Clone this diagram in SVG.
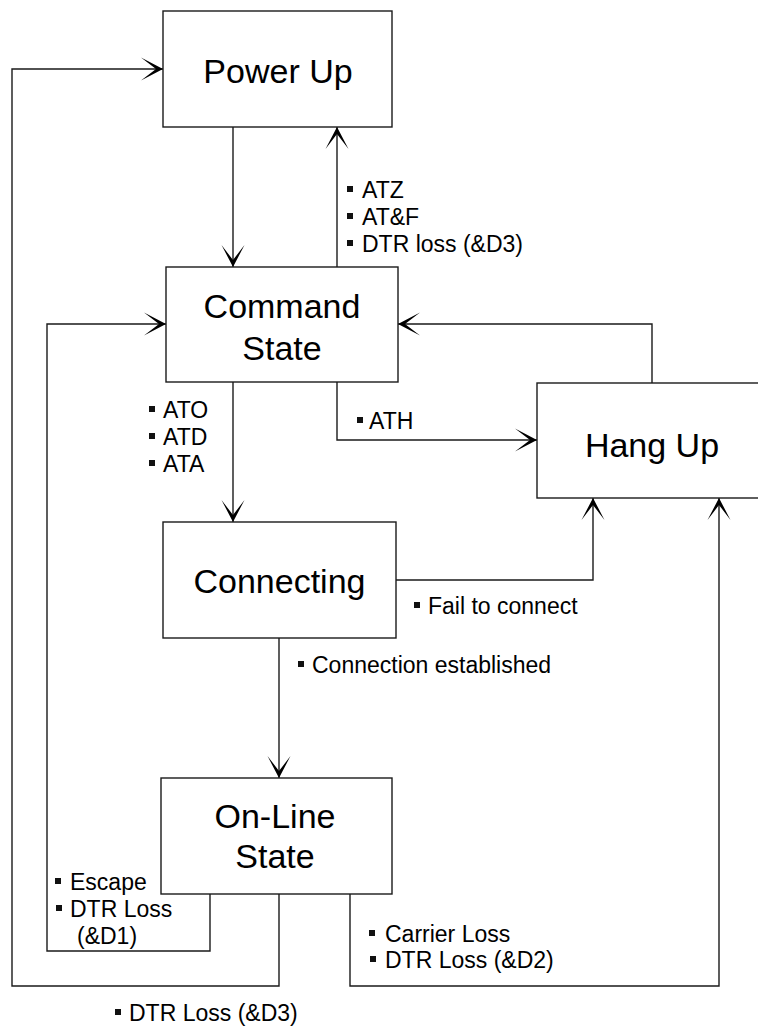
<svg xmlns="http://www.w3.org/2000/svg" width="758" height="1027" viewBox="0 0 758 1027">
<style>
.box{fill:#fff;stroke:#1a1a1a;stroke-width:1.4}
.wire{fill:none;stroke:#1a1a1a;stroke-width:1.4;marker-end:url(#arr)}
.node{font-family:"Liberation Sans",Arial,sans-serif;font-size:34px;fill:#000;text-anchor:middle}
.lbl{font-family:"Liberation Sans",Arial,sans-serif;font-size:23px;fill:#000}
.bul{fill:#111}
</style>
<defs>
<marker id="arr" markerUnits="userSpaceOnUse" markerWidth="26" markerHeight="26" viewBox="-24 -13 26 26" refX="0" refY="0" orient="auto">
<path d="M0,0 L-22,-11.5 L-7,0 L-22,11.5 Z" fill="#000"/>
</marker>
</defs>
<rect width="758" height="1027" fill="#fff"/>
<g id="connectors">
<path class="wire" d="M233,127 V267"/>
<path class="wire" d="M337,267 V127"/>
<path class="wire" d="M652,383 V324 H398"/>
<path class="wire" d="M337,382 V440 H537"/>
<path class="wire" d="M233,382 V522"/>
<path class="wire" d="M396,580 H593 V498"/>
<path class="wire" d="M279,638 V778"/>
<path class="wire" d="M210,894 V951 H47 V324 H166"/>
<path class="wire" d="M279,894 V986 H12 V69 H163"/>
<path class="wire" d="M350,894 V986 H719 V498"/>
</g>
<g id="power-up">
<rect class="box" x="163" y="11" width="229" height="116"/>
<text class="node" x="278" y="83">Power Up</text>
</g>
<g id="command-state">
<rect class="box" x="166" y="267" width="232" height="115"/>
<text class="node" x="282" y="318">Command</text>
<text class="node" x="282" y="360">State</text>
</g>
<g id="hang-up">
<rect class="box" x="537" y="383" width="232" height="115"/>
<text class="node" x="652" y="457">Hang Up</text>
</g>
<g id="connecting">
<rect class="box" x="163" y="522" width="233" height="116"/>
<text class="node" x="279.5" y="593">Connecting</text>
</g>
<g id="on-line-state">
<rect class="box" x="161" y="778" width="231" height="116"/>
<text class="node" x="275" y="828">On-Line</text>
<text class="node" x="275" y="868">State</text>
</g>
<g id="labels">
<rect class="bul" x="347" y="186" width="6" height="6"/>
<text class="lbl" x="362" y="198">ATZ</text>
<rect class="bul" x="347" y="213" width="6" height="6"/>
<text class="lbl" x="362" y="225">AT&amp;F</text>
<rect class="bul" x="347" y="240" width="6" height="6"/>
<text class="lbl" x="362" y="252">DTR loss (&amp;D3)</text>
<rect class="bul" x="357" y="417" width="6" height="6"/>
<text class="lbl" x="369" y="429">ATH</text>
<rect class="bul" x="149" y="406" width="6" height="6"/>
<text class="lbl" x="163" y="418">ATO</text>
<rect class="bul" x="149" y="433" width="6" height="6"/>
<text class="lbl" x="163" y="445">ATD</text>
<rect class="bul" x="149" y="460" width="6" height="6"/>
<text class="lbl" x="163" y="472">ATA</text>
<rect class="bul" x="414" y="602" width="6" height="6"/>
<text class="lbl" x="428" y="614">Fail to connect</text>
<rect class="bul" x="298" y="661" width="6" height="6"/>
<text class="lbl" x="312" y="673">Connection established</text>
<rect class="bul" x="55" y="878" width="6" height="6"/>
<text class="lbl" x="70" y="890">Escape</text>
<rect class="bul" x="56" y="905" width="6" height="6"/>
<text class="lbl" x="70" y="917">DTR Loss</text>
<text class="lbl" x="77" y="944">(&amp;D1)</text>
<rect class="bul" x="369" y="930" width="6" height="6"/>
<text class="lbl" x="385" y="942">Carrier Loss</text>
<rect class="bul" x="370" y="956" width="6" height="6"/>
<text class="lbl" x="385" y="968">DTR Loss (&amp;D2)</text>
<rect class="bul" x="115" y="1009" width="6" height="6"/>
<text class="lbl" x="129" y="1021">DTR Loss (&amp;D3)</text>
</g>
</svg>
